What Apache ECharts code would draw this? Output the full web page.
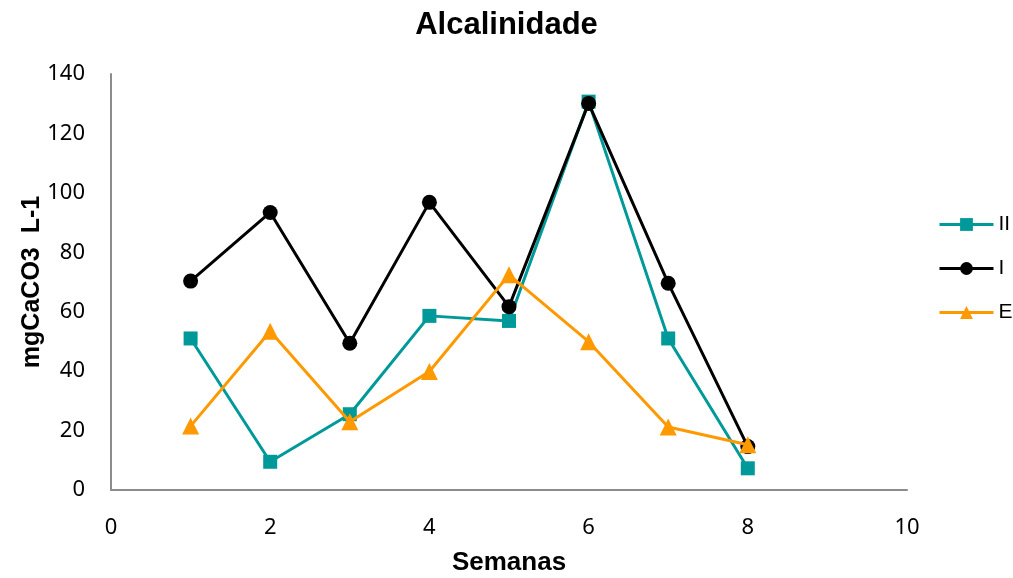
<!DOCTYPE html>
<html><head><meta charset="utf-8">
<script src="https://cdn.jsdelivr.net/npm/echarts@6/dist/echarts.min.js"></script>
<style>html,body{margin:0;padding:0;background:#fff}#c{width:1013px;height:578px}</style>
</head><body><div id="c"></div>
<script>
const weeks = [1,2,3,4,5,6,7,8];
const seriesII = [51.0, 9.5, 25.5, 58.6, 56.9, 130.7, 51.0, 7.3];
const seriesI = [70.3, 93.4, 49.4, 96.8, 61.7, 130.1, 69.6, 14.6];
const seriesE = [21.5, 53.4, 23.0, 39.9, 72.4, 49.9, 21.2, 15.2];
const xTicks = [0,2,4,6,8,10];
const yTicks = [0,20,40,60,80,100,120,140];

const bold = "'Liberation Sans', Arial, sans-serif";
const tick = "'Noto Sans', 'Open Sans', sans-serif";
const pair = arr => weeks.map((w,i)=>[w,arr[i]]);
const chart = echarts.init(document.getElementById('c'));
chart.setOption({
  animation:false,
  title:{text:'Alcalinidade',left:'center',top:5,textStyle:{fontFamily:bold,fontWeight:'bold',fontSize:31,color:'#000'}},
  grid:{left:111,right:106,top:74,bottom:88,containLabel:false,outerBoundsMode:'none'},
  legend:{orient:'vertical',left:938,top:214,padding:0,itemWidth:54,itemHeight:16,itemGap:23,
    lineStyle:{width:3},
    textStyle:{fontFamily:bold,fontSize:21,color:'#000'},
    data:['II','I','E']},
  xAxis:{type:'value',min:0,max:10,interval:2,
    name:'Semanas',nameLocation:'middle',nameGap:60,nameMoveOverlap:false,
    nameTextStyle:{fontFamily:bold,fontWeight:'bold',fontSize:26,color:'#000'},
    axisLine:{lineStyle:{color:'#8c8c8c',width:2}},axisTick:{show:false},splitLine:{show:false},
    axisLabel:{fontFamily:tick,fontSize:22,color:'#000',margin:27,formatter:v=>xTicks.includes(v)?String(v):''}},
  yAxis:{type:'value',min:0,max:140,interval:20,
    name:'mgCaCO3  L-1',nameLocation:'middle',nameGap:66,nameMoveOverlap:false,
    nameTextStyle:{fontFamily:bold,fontWeight:'bold',fontSize:25,color:'#000'},
    axisLine:{show:true,lineStyle:{color:'#8c8c8c',width:2}},axisTick:{show:false},splitLine:{show:false},
    axisLabel:{fontFamily:tick,fontSize:22,color:'#000',margin:26,formatter:v=>yTicks.includes(v)?String(v):''}},
  series:[
    {name:'II',type:'line',data:pair(seriesII),symbol:'rect',symbolSize:14,
      lineStyle:{color:'#009999',width:3},itemStyle:{color:'#009999'},z:2},
    {name:'I',type:'line',data:pair(seriesI),symbol:'circle',symbolSize:15,
      lineStyle:{color:'#000',width:3},itemStyle:{color:'#000'},z:3},
    {name:'E',type:'line',data:pair(seriesE),symbol:'triangle',symbolSize:17,
      lineStyle:{color:'#ff9900',width:3},itemStyle:{color:'#ff9900'},z:4}
  ]
});
</script></body></html>
